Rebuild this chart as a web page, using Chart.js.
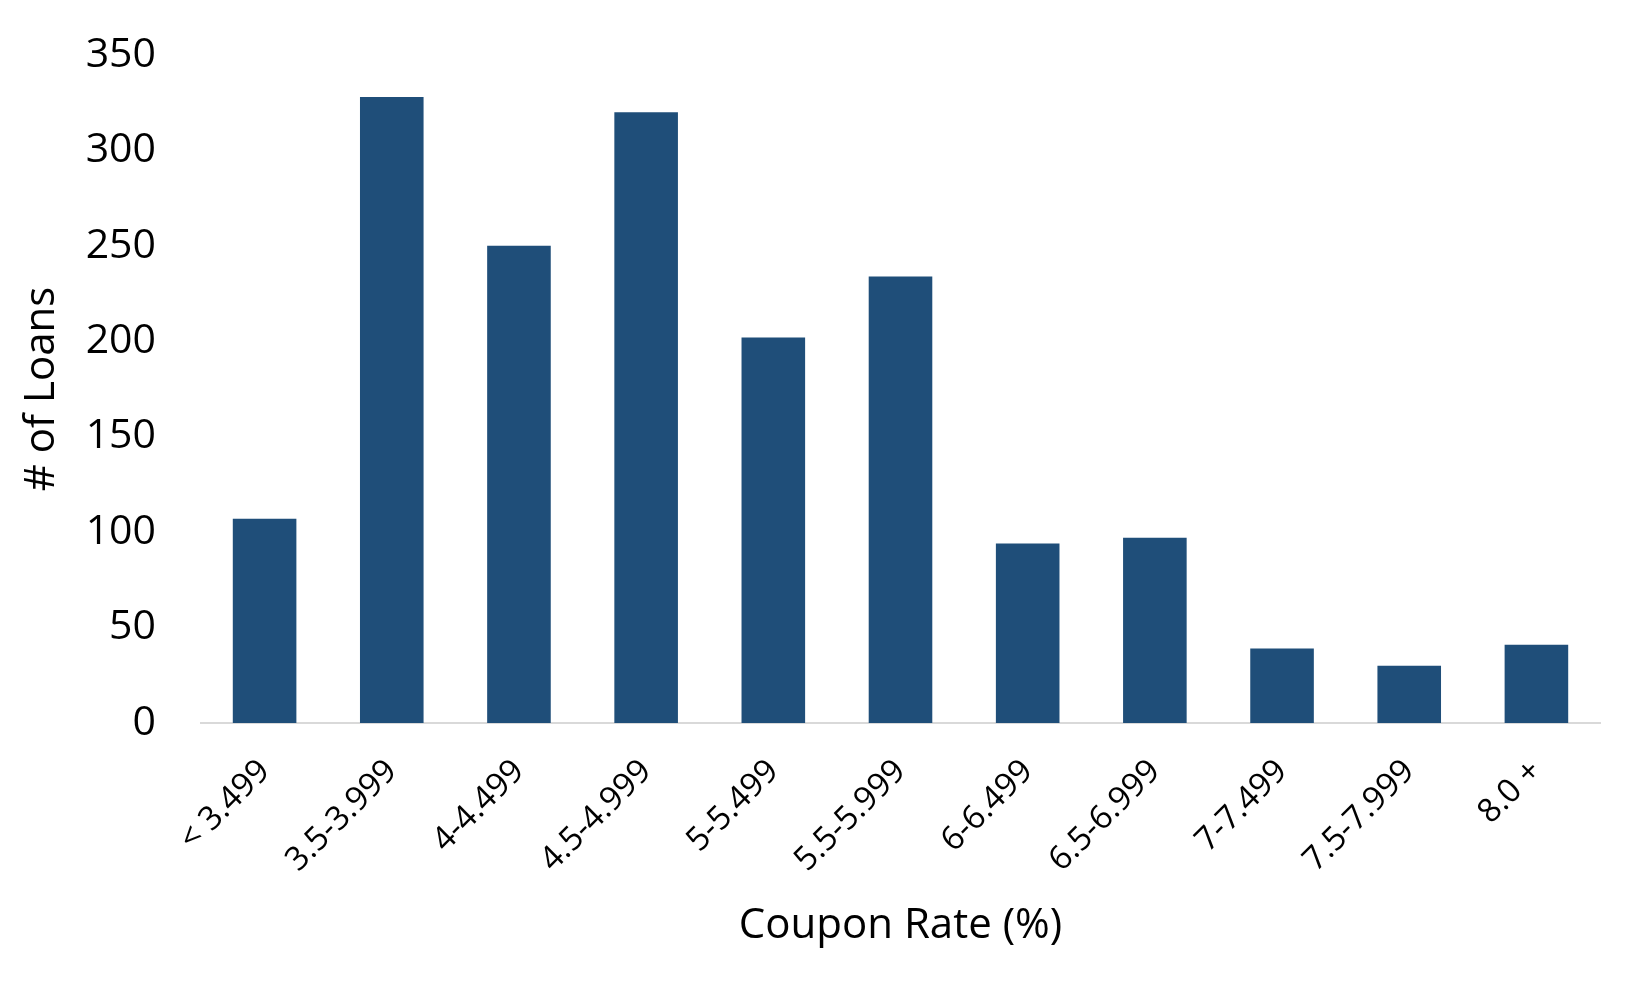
<!DOCTYPE html>
<html>
<head>
<meta charset="utf-8">
<script src="https://cdn.jsdelivr.net/npm/chart.js@4/dist/chart.umd.min.js"></script>
<style>
  html, body { margin: 0; padding: 0; background: #fff; }
  #wrap { width: 1651px; height: 990px; }
</style>
</head>
<body>
<div id="wrap"><canvas id="chart" width="1651" height="990"></canvas></div>
<script>
// coupon rate buckets and loan counts
const categories = ['< 3.499', '3.5-3.999', '4-4.499', '4.5-4.999', '5-5.499', '5.5-5.999',
  '6-6.499', '6.5-6.999', '7-7.499', '7.5-7.999', '8.0 +'];
const loanCounts = [107, 328, 250, 320, 202, 234, 94, 97, 39, 30, 41];
const yTicks = [0, 50, 100, 150, 200, 250, 300, 350];

const ctx = document.getElementById('chart').getContext('2d');
const chart = new Chart(ctx, {
  type: 'bar',
  data: {
    labels: categories,
    datasets: [{
      label: '# of Loans',
      data: loanCounts,
      backgroundColor: '#1F4E79',
      borderWidth: 0,
      categoryPercentage: 1.0,
      barPercentage: 0.5
    }]
  },
  options: {
    responsive: false,
    animation: false,
    layout: { padding: { top: 55, right: 51, bottom: 0, left: 0 } },
    plugins: { legend: { display: false }, tooltip: { enabled: false } },
    scales: {
      x: {
        grid: { display: false, drawTicks: false },
        border: { display: true, color: '#d9d9d9', width: 2 },
        ticks: {
          color: '#000',
          font: { family: 'Open Sans', size: 33 },
          minRotation: 45,
          maxRotation: 45,
          padding: 29,
          autoSkip: false
        },
        title: {
          display: true,
          text: 'Coupon Rate (%)',
          color: '#000',
          font: { family: 'Open Sans', size: 42 },
          padding: { top: 0, bottom: 39 }
        },
        afterFit: (scale) => { scale.height = 267; }
      },
      y: {
        min: 0,
        max: 350,
        grid: { display: false, drawTicks: false },
        border: { display: false },
        afterBuildTicks: (scale) => { scale.ticks = yTicks.map(v => ({ value: v })); },
        ticks: {
          color: '#000',
          font: { family: 'Open Sans', size: 41 },
          padding: 45
        },
        title: {
          display: true,
          text: '# of Loans',
          color: '#000',
          font: { family: 'Open Sans', size: 42 },
          padding: { top: 17, bottom: 0 }
        },
        afterFit: (scale) => {
          scale.width = 201;
          scale.paddingTop = 0;
          scale.paddingBottom = 0;
        }
      }
    }
  }
});
</script>
</body>
</html>
